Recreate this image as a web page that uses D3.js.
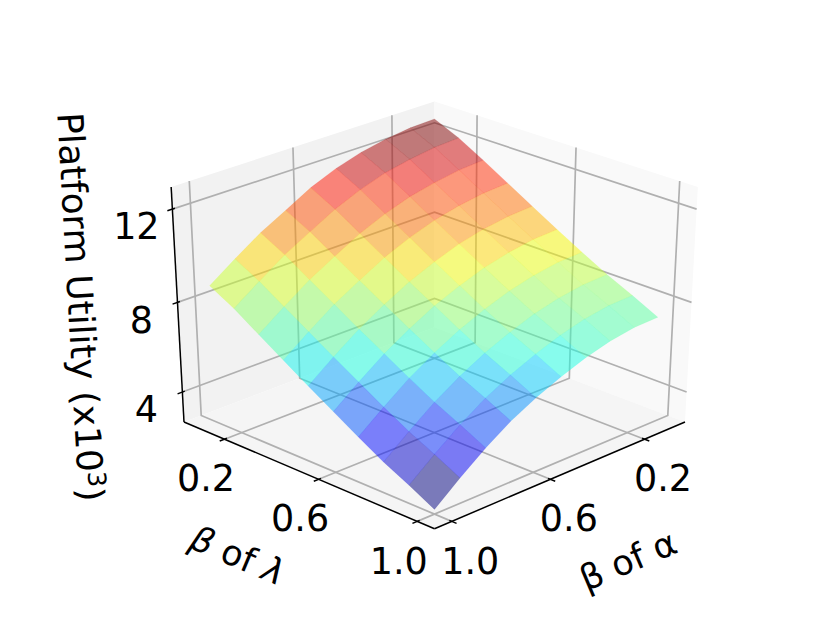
<!DOCTYPE html>
<html>
<head>
<meta charset="utf-8">
<script src="https://cdn.jsdelivr.net/npm/d3@7"></script>
<style>
    html, body { margin: 0; padding: 0; background: #fff; }
    svg { display: block; }
    text { font-family: "DejaVu Sans", sans-serif; fill: #000; }
</style>
</head>
<body>
<div id="chart"></div>
<script>
// values
var alphaValues = [0.088, 0.189, 0.291, 0.392, 0.493, 0.595, 0.696, 0.797, 0.899, 1.0];
var lambdaValues = [0.088, 0.189, 0.291, 0.392, 0.493, 0.595, 0.696, 0.797, 0.899, 1.0];
// one row per lambda, one column per alpha (x10^3)
var utilityRows = [
    [12.62, 12.58, 12.44, 12.22, 11.89, 11.43, 10.82, 10.23, 9.49, 8.72],
    [12.14, 12.08, 11.92, 11.70, 11.34, 10.87, 10.27, 9.66, 8.91, 8.13],
    [11.53, 11.46, 11.28, 11.04, 10.67, 10.20, 9.60, 8.98, 8.21, 7.41],
    [10.89, 10.82, 10.65, 10.39, 10.02, 9.55, 8.95, 8.31, 7.53, 6.71],
    [10.25, 10.18, 10.01, 9.75, 9.36, 8.89, 8.30, 7.64, 6.85, 6.01],
    [9.61, 9.56, 9.38, 9.11, 8.72, 8.25, 7.66, 6.99, 6.18, 5.32],
    [9.00, 8.95, 8.77, 8.49, 8.10, 7.62, 7.03, 6.35, 5.52, 4.65],
    [8.41, 8.36, 8.18, 7.90, 7.50, 7.02, 6.43, 5.73, 4.89, 4.00],
    [7.89, 7.85, 7.67, 7.37, 6.97, 6.49, 5.91, 5.19, 4.34, 3.44],
    [7.34, 7.30, 7.12, 6.82, 6.41, 5.93, 5.35, 4.62, 3.76, 2.84]
];
var betaTicks = [0.2, 0.6, 1.0];
var betaTickLabels = ["0.2", "0.6", "1.0"];
var utilityTicks = [4, 8, 12];
var utilityTickLabels = ["4", "8", "12"];
var alphaLimits = [0.022, 1.068];
var lambdaLimits = [0.022, 1.068];
var utilityLimits = [2.63, 12.93];

var width = 830, height = 623;

// data -> box coordinates (box is -.5 to .5 on each side)
var xScale = d3.scaleLinear().domain(alphaLimits).range([-0.5, 0.5]);
var yScale = d3.scaleLinear().domain(lambdaLimits).range([-0.5, 0.5]);
var zScale = d3.scaleLinear().domain(utilityLimits).range([-0.5, 0.5]);

// camera: elev 30, azim 45, dist 10
var elev = 30 * Math.PI / 180, azim = 45 * Math.PI / 180, dist = 10;
var fx = 3631, fy = 2712, cx = 434.5, cy = 307.4;

function depthOf(p) {
    let r = p[0] * Math.cos(azim) + p[1] * Math.sin(azim);
    return Math.cos(elev) * r + Math.sin(elev) * p[2];
}

function project(p) {
    let r = p[0] * Math.cos(azim) + p[1] * Math.sin(azim);
    let side = -p[0] * Math.sin(azim) + p[1] * Math.cos(azim);
    let up = -Math.sin(elev) * r + Math.cos(elev) * p[2];
    let w = dist - depthOf(p);
    return [cx + fx * side / w, cy - fy * up / w];
}

var line3d = d3.line().x(d => project(d)[0]).y(d => project(d)[1]);
var closed3d = d => line3d(d) + "Z";

// jet colormap
var jetR = d3.scaleLinear().domain([0, 0.35, 0.66, 0.89, 1]).range([0, 0, 1, 1, 0.5]).clamp(true);
var jetG = d3.scaleLinear().domain([0, 0.125, 0.375, 0.64, 0.91, 1]).range([0, 0, 1, 1, 0, 0]).clamp(true);
var jetB = d3.scaleLinear().domain([0, 0.11, 0.34, 0.65, 1]).range([0.5, 1, 1, 0, 0]).clamp(true);
function jet(t) {
    return d3.rgb(jetR(t) * 255, jetG(t) * 255, jetB(t) * 255).formatRgb();
}

var svg = d3.select("#chart").append("svg").attr("width", width).attr("height", height);

// < --------- panes -------------> //
var panes = [
    { fill: "#f2f2f2", pts: [[0.5, -0.5, -0.5], [-0.5, -0.5, -0.5], [-0.5, -0.5, 0.5], [0.5, -0.5, 0.5]] },
    { fill: "#f9f9f9", pts: [[-0.5, -0.5, -0.5], [-0.5, 0.5, -0.5], [-0.5, 0.5, 0.5], [-0.5, -0.5, 0.5]] },
    { fill: "#f5f5f5", pts: [[0.5, 0.5, -0.5], [0.5, -0.5, -0.5], [-0.5, -0.5, -0.5], [-0.5, 0.5, -0.5]] }
];
svg.append("g").selectAll("path").data(panes).join("path")
    .attr("d", d => closed3d(d.pts))
    .attr("fill", d => d.fill);

// < --------- grid -------------> //
var gridPaths = [];
betaTicks.forEach(function(v) {
    let x = xScale(v), y = yScale(v);
    gridPaths.push([[x, 0.5, -0.5], [x, -0.5, -0.5], [x, -0.5, 0.5]]);
    gridPaths.push([[0.5, y, -0.5], [-0.5, y, -0.5], [-0.5, y, 0.5]]);
});
utilityTicks.forEach(function(v) {
    let z = zScale(v);
    gridPaths.push([[0.5, -0.5, z], [-0.5, -0.5, z], [-0.5, 0.5, z]]);
});
svg.append("g").selectAll("path").data(gridPaths).join("path")
    .attr("d", line3d)
    .attr("fill", "none")
    .attr("stroke", "#b0b0b0")
    .attr("stroke-width", 1.7);

// < --------- surface cells -------------> //
var cells = [];
for (let i = 0; i < lambdaValues.length - 1; i++) {
    for (let j = 0; j < alphaValues.length - 1; j++) {
        let corners = [[i, j], [i, j + 1], [i + 1, j + 1], [i + 1, j]];
        let pts = corners.map(c => [xScale(alphaValues[c[1]]), yScale(lambdaValues[c[0]]), zScale(utilityRows[c[0]][c[1]])]);
        cells.push({
            pts: pts,
            mean: d3.mean(corners, c => utilityRows[c[0]][c[1]]),
            depth: d3.mean(pts, depthOf)
        });
    }
}
var colorScale = d3.scaleLinear().domain(d3.extent(cells, d => d.mean)).range([0, 1]);
cells.sort((a, b) => a.depth - b.depth);
svg.append("g").selectAll("path").data(cells).join("path")
    .attr("d", d => closed3d(d.pts))
    .attr("fill", d => jet(colorScale(d.mean)))
    .attr("fill-opacity", 0.5)
    .attr("stroke", d => jet(colorScale(d.mean)))
    .attr("stroke-opacity", 0.25)
    .attr("stroke-width", 0.4);

// < --------- axis lines and ticks -------------> //
var axisLines = [
    [[0.5, -0.5, -0.5], [0.5, 0.5, -0.5]],
    [[0.5, 0.5, -0.5], [-0.5, 0.5, -0.5]],
    [[0.5, -0.5, -0.5], [0.5, -0.5, 0.5]]
];
var tickIn = 0.009, tickOut = 0.018;
var tickLines = [];
betaTicks.forEach(function(v) {
    let x = xScale(v), y = yScale(v);
    tickLines.push([[x, 0.5 - tickIn, -0.5], [x, 0.5 + tickOut, -0.5]]);
    tickLines.push([[0.5 - tickIn, y, -0.5], [0.5 + tickOut, y, -0.5]]);
});
utilityTicks.forEach(function(v) {
    let z = zScale(v);
    tickLines.push([[0.5 - tickIn, -0.5, z], [0.5 + tickOut, -0.5, z]]);
});
svg.append("g").selectAll("path").data(axisLines.concat(tickLines)).join("path")
    .attr("d", line3d)
    .attr("fill", "none")
    .attr("stroke", "#000")
    .attr("stroke-width", 1.5);

// < --------- tick labels -------------> //
var tickFont = 36.5;
var labels = [];
betaTicks.forEach(function(v, i) {
    let pr = project([xScale(v), 0.5, -0.5]);
    let pl = project([0.5, yScale(v), -0.5]);
    labels.push({ x: pr[0] + 18.5, y: pr[1] + 39, t: betaTickLabels[i] });
    labels.push({ x: pl[0] - 18.5, y: pl[1] + 39, t: betaTickLabels[i] });
});
utilityTicks.forEach(function(v, i) {
    let p = project([0.5, -0.5, zScale(v)]);
    labels.push({ x: p[0] - 36, y: p[1] + 17, t: utilityTickLabels[i] });
});
svg.append("g").selectAll("text").data(labels).join("text")
    .attr("x", d => d.x)
    .attr("y", d => d.y)
    .attr("dy", "0.36em")
    .attr("text-anchor", "middle")
    .attr("font-size", tickFont)
    .text(d => d.t);

// < --------- axis titles -------------> //
var rightTitle = svg.append("text")
    .attr("transform", "translate(628,560) rotate(-23)")
    .attr("text-anchor", "middle").attr("dy", "0.36em").attr("font-size", 35);
rightTitle.text("β of α");

var leftTitle = svg.append("text")
    .attr("transform", "translate(238,555) rotate(23)")
    .attr("text-anchor", "middle").attr("dy", "0.36em").attr("font-size", 35);
leftTitle.append("tspan").attr("font-style", "italic").text("β");
leftTitle.append("tspan").text(" of ");
leftTitle.append("tspan").attr("font-style", "italic").text("λ");

var zTitle = svg.append("text")
    .attr("transform", "translate(81,307) rotate(86.8)")
    .attr("text-anchor", "middle").attr("dy", "0.36em").attr("font-size", 35.8);
zTitle.append("tspan").text("Platform Utility (x10");
zTitle.append("tspan").attr("dy", "-0.42em").attr("font-size", 25).text("3");
zTitle.append("tspan").attr("dy", "0.3em").text(")");
</script>
</body>
</html>
